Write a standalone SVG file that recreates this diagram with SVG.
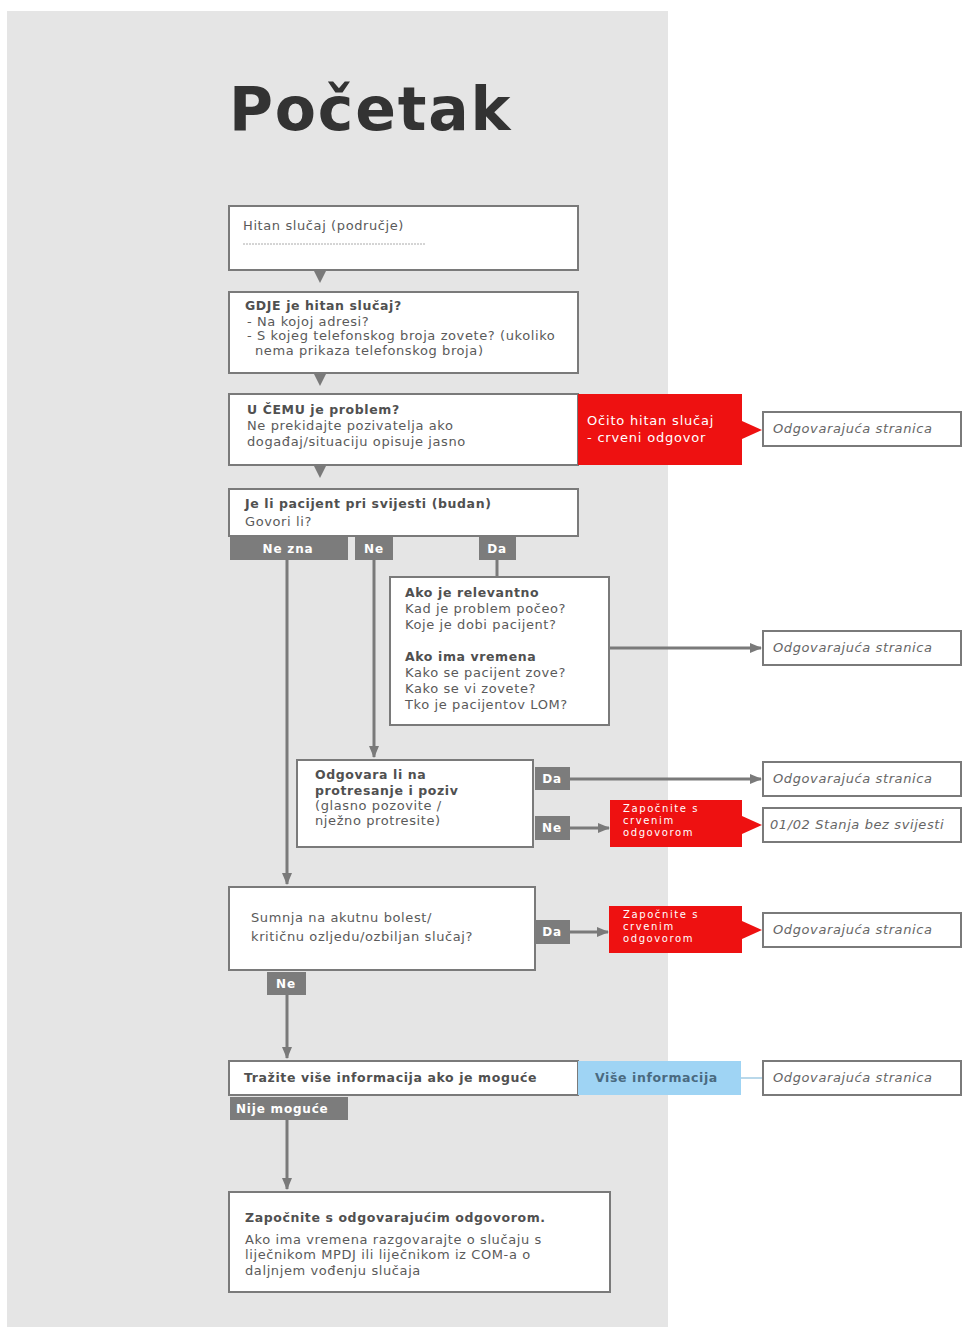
<svg xmlns="http://www.w3.org/2000/svg" width="963" height="1327" viewBox="0 0 963 1327">
<style>
text{font-family:"DejaVu Sans","Liberation Sans",sans-serif;font-size:13px;letter-spacing:0.6px;fill:#5a5a5a}
.b{font-weight:bold;font-size:12.5px;letter-spacing:0.6px;fill:#505050}
.box{fill:#fff;stroke:#7a7a7a;stroke-width:2}
.tag{fill:#7c7c7c}
.tagt{fill:#fff;font-weight:bold;font-size:12px;letter-spacing:0.8px}
.red{fill:#ee1111}
.redt{fill:#fff;font-size:13px;letter-spacing:0.8px}
.reds{fill:#fff;font-size:10px;letter-spacing:1.6px}
.ref{font-style:italic;fill:#666}
.ln{stroke:#7a7a7a;stroke-width:3;fill:none}
.wedge{fill:#7a7a7a}
</style>
<defs>
<marker id="ahs" markerWidth="12" markerHeight="10" refX="11" refY="5" orient="auto" markerUnits="userSpaceOnUse">
<path d="M0,0 L12,5 L0,10 Z" fill="#7a7a7a"/>
</marker>
</defs>
<rect x="0" y="0" width="963" height="1327" fill="#fff"/>
<rect x="7" y="11" width="661" height="1316" fill="#e5e5e5"/>
<text x="229" y="130" style="font-size:60px;font-weight:bold;letter-spacing:1.8px;fill:#333">Početak</text>

<g id="connectors">
<polygon class="wedge" points="314,271 326,271 320,283"/>
<polygon class="wedge" points="314,374 326,374 320,386"/>
<polygon class="wedge" points="314,466 326,466 320,478"/>
<line class="ln" x1="287" y1="560" x2="287" y2="884" marker-end="url(#ahs)"/>
<line class="ln" x1="374" y1="560" x2="374" y2="757" marker-end="url(#ahs)"/>
<line class="ln" x1="497" y1="560" x2="497" y2="577"/>
<line class="ln" x1="609" y1="648" x2="761" y2="648" marker-end="url(#ahs)"/>
<line class="ln" x1="570" y1="779" x2="761" y2="779" marker-end="url(#ahs)"/>
<line class="ln" x1="570" y1="828" x2="609" y2="828" marker-end="url(#ahs)"/>
<line class="ln" x1="570" y1="932" x2="608" y2="932" marker-end="url(#ahs)"/>
<line class="ln" x1="287" y1="995" x2="287" y2="1058" marker-end="url(#ahs)"/>
<line class="ln" x1="287" y1="1120" x2="287" y2="1189" marker-end="url(#ahs)"/>
<polygon class="red" points="742,421 762,430 742,439"/>
<polygon class="red" points="742,816 762,825 742,834"/>
<polygon class="red" points="742,921 762,930 742,939"/>
<line x1="741" y1="1078" x2="763" y2="1078" stroke="#b9d8ea" stroke-width="2"/>
</g>

<g id="n1">
<rect class="box" x="229" y="206" width="349" height="64"/>
<text x="243" y="230">Hitan slučaj (područje)</text>
<line x1="243" y1="244" x2="425" y2="244" stroke="#aaa" stroke-width="1" stroke-dasharray="2,1"/>
</g>

<g id="n2">
<rect class="box" x="229" y="292" width="349" height="81"/>
<text x="245" y="310" class="b">GDJE je hitan slučaj?</text>
<text x="247" y="326">- Na kojoj adresi?</text>
<text x="247" y="340">- S kojeg telefonskog broja zovete? (ukoliko</text>
<text x="255" y="355">nema prikaza telefonskog broja)</text>
</g>

<g id="n3">
<rect class="box" x="229" y="394" width="349" height="71"/>
<text x="247" y="414" class="b">U ČEMU je problem?</text>
<text x="247" y="430">Ne prekidajte pozivatelja ako</text>
<text x="247" y="446">događaj/situaciju opisuje jasno</text>
</g>

<g id="n3red">
<rect class="red" x="578" y="394" width="164" height="71"/>
<text x="587" y="425" class="redt">Očito hitan slučaj</text>
<text x="587" y="442" class="redt">- crveni odgovor</text>
</g>

<g id="r1">
<rect class="box" x="763" y="412" width="198" height="34"/>
<text x="773" y="433" class="ref">Odgovarajuća stranica</text>
</g>

<g id="n4">
<rect class="box" x="229" y="489" width="349" height="47"/>
<text x="245" y="508" class="b">Je li pacijent pri svijesti (budan)</text>
<text x="245" y="526">Govori li?</text>
</g>

<g id="t-nezna"><rect class="tag" x="230" y="537" width="118" height="23"/><text x="288" y="553" class="tagt" text-anchor="middle">Ne zna</text></g>
<g id="t-ne1"><rect class="tag" x="355" y="537" width="38" height="23"/><text x="374" y="553" class="tagt" text-anchor="middle">Ne</text></g>
<g id="t-da1"><rect class="tag" x="479" y="537" width="37" height="23"/><text x="497" y="553" class="tagt" text-anchor="middle">Da</text></g>

<g id="n5">
<rect class="box" x="390" y="577" width="219" height="148"/>
<text x="405" y="597" class="b">Ako je relevantno</text>
<text x="405" y="613">Kad je problem počeo?</text>
<text x="405" y="629">Koje je dobi pacijent?</text>
<text x="405" y="661" class="b">Ako ima vremena</text>
<text x="405" y="677">Kako se pacijent zove?</text>
<text x="405" y="693">Kako se vi zovete?</text>
<text x="405" y="709">Tko je pacijentov LOM?</text>
</g>

<g id="r2">
<rect class="box" x="763" y="631" width="198" height="34"/>
<text x="773" y="652" class="ref">Odgovarajuća stranica</text>
</g>

<g id="n6">
<rect class="box" x="297" y="760" width="236" height="87"/>
<text x="315" y="779" class="b">Odgovara li na</text>
<text x="315" y="795" class="b">protresanje i poziv</text>
<text x="315" y="810">(glasno pozovite /</text>
<text x="315" y="825">nježno protresite)</text>
</g>
<g id="t-da2"><rect class="tag" x="535" y="767" width="35" height="23"/><text x="552" y="783" class="tagt" text-anchor="middle">Da</text></g>
<g id="t-ne2"><rect class="tag" x="535" y="816" width="35" height="24"/><text x="552" y="832" class="tagt" text-anchor="middle">Ne</text></g>

<g id="r3">
<rect class="box" x="763" y="762" width="198" height="34"/>
<text x="773" y="783" class="ref">Odgovarajuća stranica</text>
</g>

<g id="red2">
<rect class="red" x="610" y="800" width="132" height="47"/>
<text x="623" y="812" class="reds">Započnite s</text>
<text x="623" y="824" class="reds">crvenim</text>
<text x="623" y="836" class="reds">odgovorom</text>
</g>

<g id="r4">
<rect class="box" x="763" y="808" width="198" height="34"/>
<text x="770" y="829" class="ref">01/02 Stanja bez svijesti</text>
</g>

<g id="n7">
<rect class="box" x="229" y="887" width="306" height="83"/>
<text x="251" y="922">Sumnja na akutnu bolest/</text>
<text x="251" y="941">kritičnu ozljedu/ozbiljan slučaj?</text>
</g>
<g id="t-da3"><rect class="tag" x="535" y="920" width="35" height="24"/><text x="552" y="936" class="tagt" text-anchor="middle">Da</text></g>
<g id="t-ne3"><rect class="tag" x="267" y="972" width="39" height="23"/><text x="286" y="988" class="tagt" text-anchor="middle">Ne</text></g>

<g id="red3">
<rect class="red" x="609" y="906" width="133" height="47"/>
<text x="623" y="918" class="reds">Započnite s</text>
<text x="623" y="930" class="reds">crvenim</text>
<text x="623" y="942" class="reds">odgovorom</text>
</g>

<g id="r5">
<rect class="box" x="763" y="913" width="198" height="34"/>
<text x="773" y="934" class="ref">Odgovarajuća stranica</text>
</g>

<g id="n8">
<rect class="box" x="229" y="1061" width="349" height="34"/>
<text x="244" y="1082" class="b">Tražite više informacija ako je moguće</text>
</g>
<g id="blue">
<rect x="578" y="1061" width="163" height="34" fill="#9fd4f4"/>
<text x="595" y="1082" class="b" style="fill:#4a6a80">Više informacija</text>
</g>
<g id="t-nije"><rect class="tag" x="230" y="1097" width="118" height="23"/><text x="236" y="1113" class="tagt">Nije moguće</text></g>

<g id="r6">
<rect class="box" x="763" y="1061" width="198" height="34"/>
<text x="773" y="1082" class="ref">Odgovarajuća stranica</text>
</g>

<g id="n9">
<rect class="box" x="229" y="1192" width="381" height="100"/>
<text x="245" y="1222" class="b">Započnite s odgovarajućim odgovorom.</text>
<text x="245" y="1244">Ako ima vremena razgovarajte o slučaju s</text>
<text x="245" y="1259">liječnikom MPDJ ili liječnikom iz COM-a o</text>
<text x="245" y="1275">daljnjem vođenju slučaja</text>
</g>
</svg>
